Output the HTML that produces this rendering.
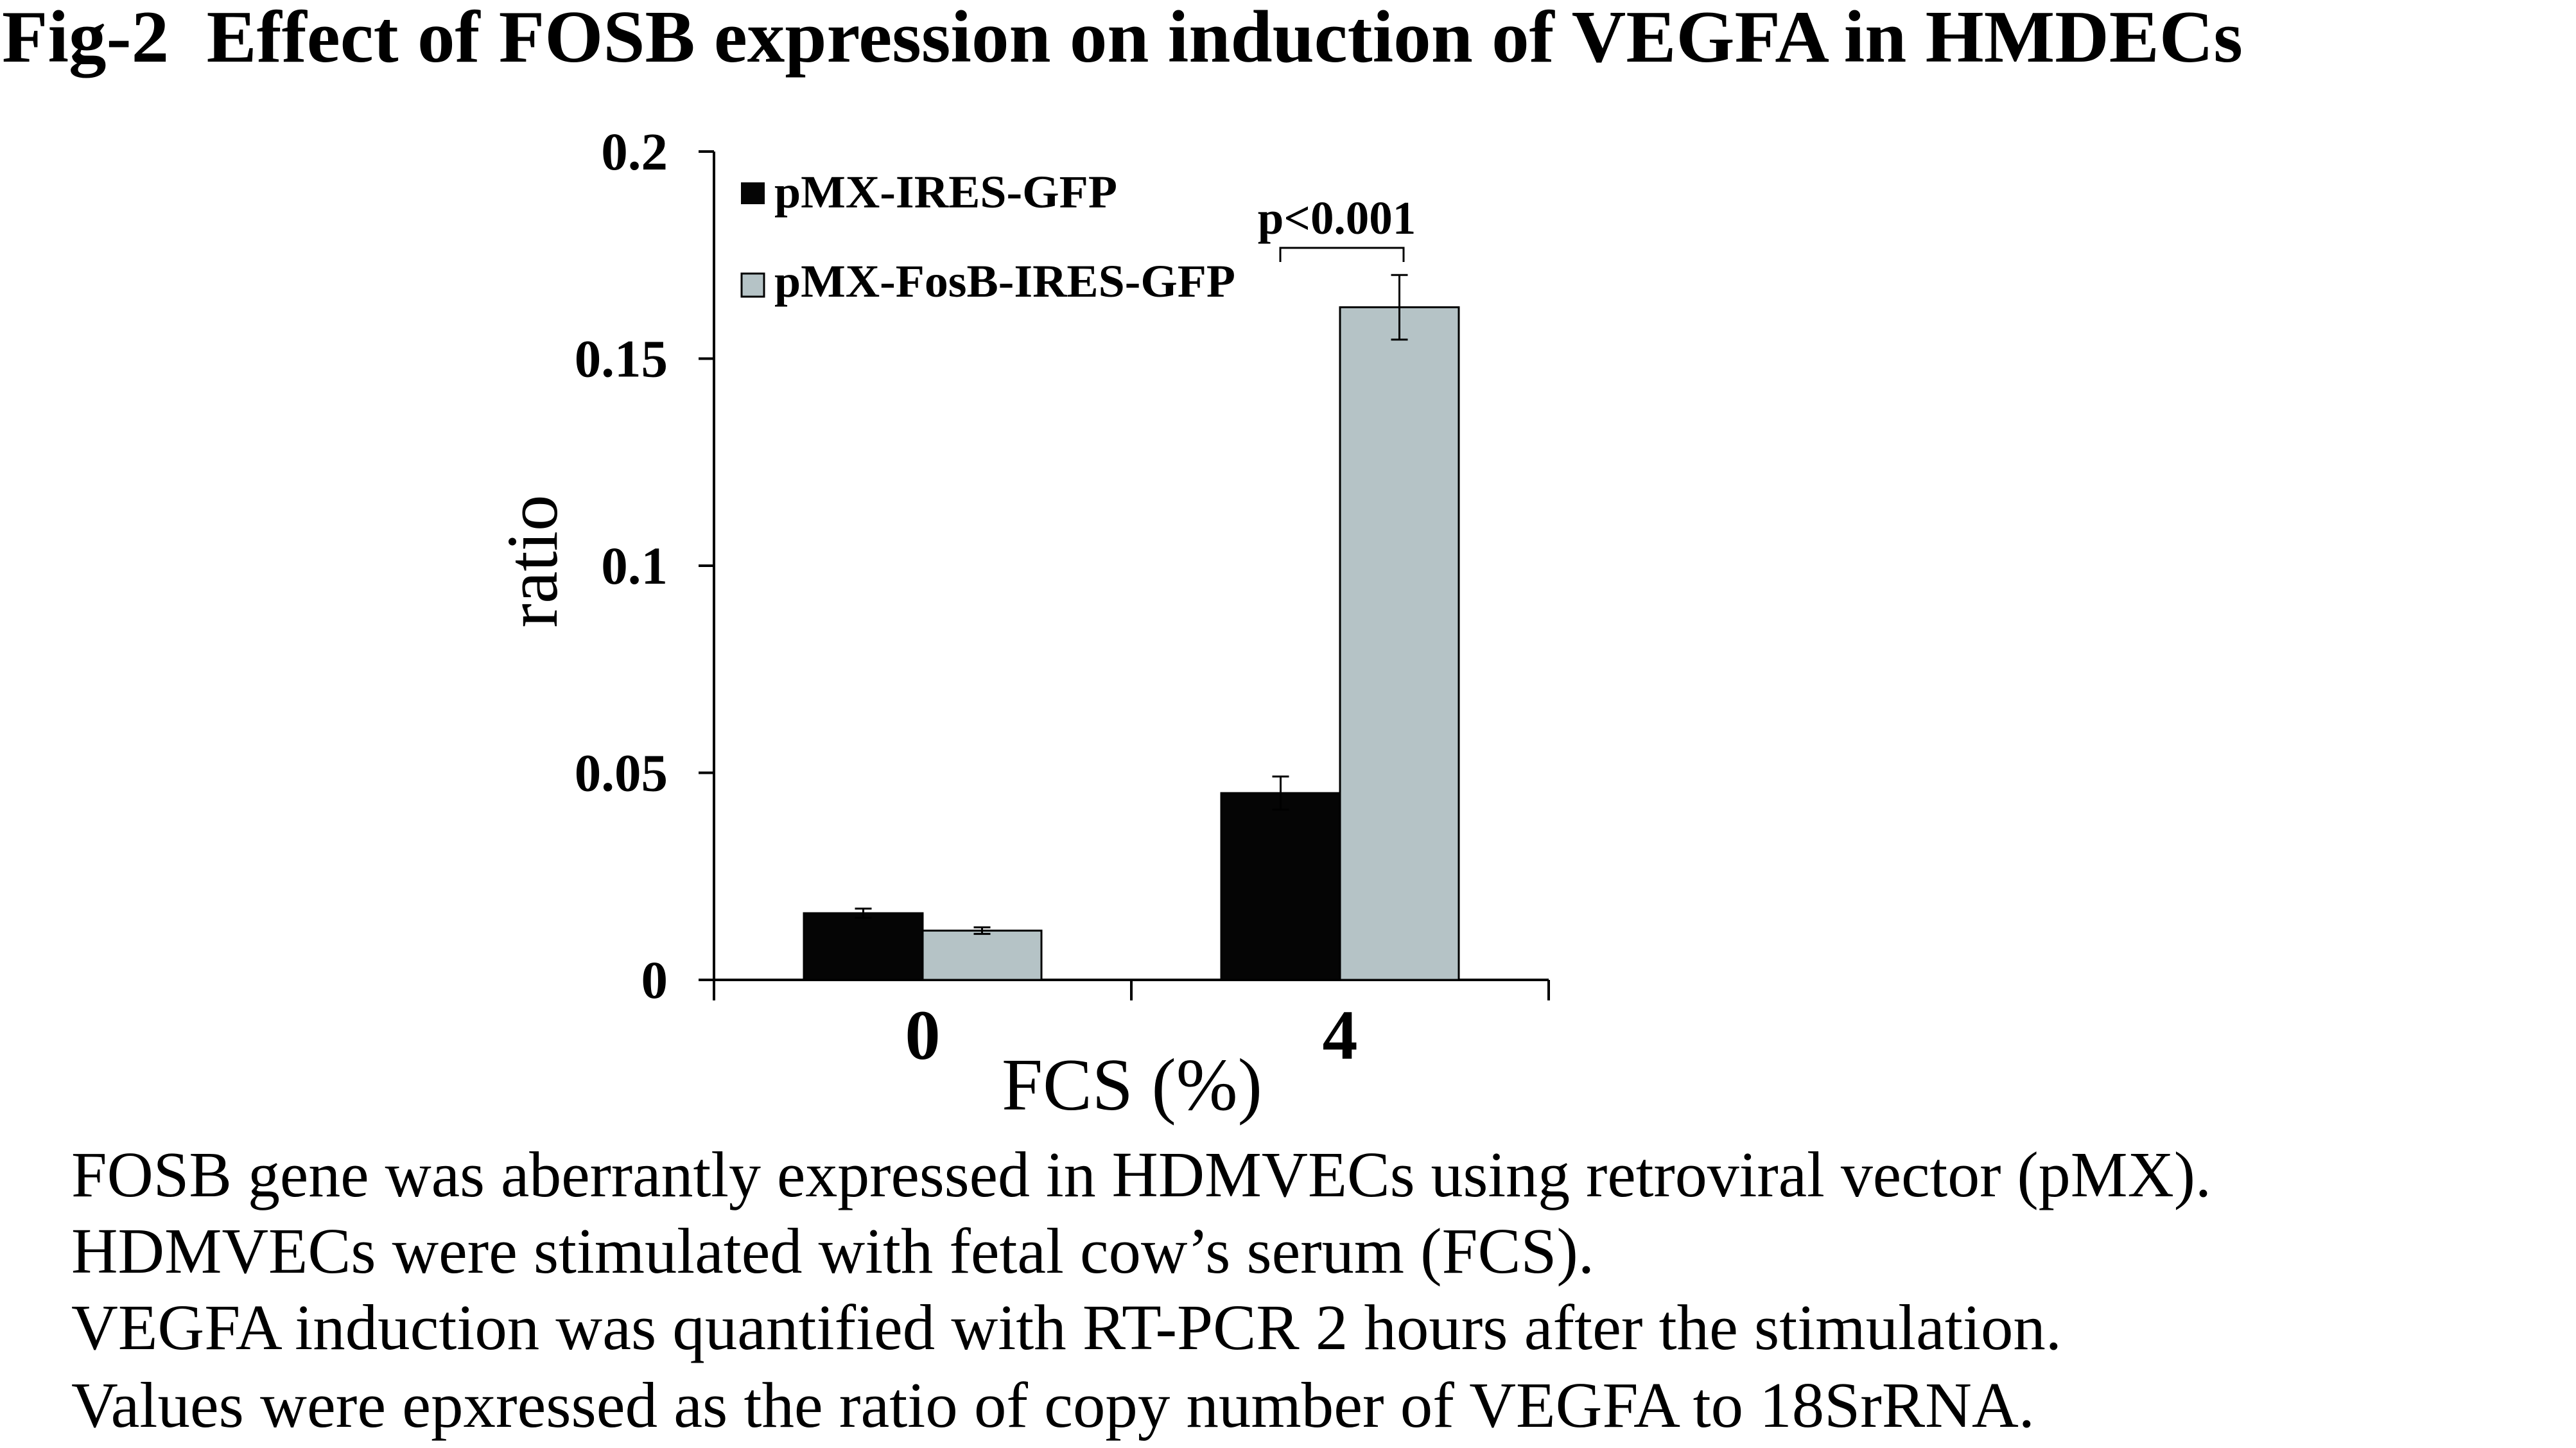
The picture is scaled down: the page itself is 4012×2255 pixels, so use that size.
<!DOCTYPE html>
<html><head><meta charset="utf-8"><style>
html,body{margin:0;padding:0;background:#fff;}
svg{display:block;font-family:"Liberation Serif","Times New Roman",serif;}
</style></head><body>
<svg id="chart" width="4012" height="2255" viewBox="0 0 4012 2255" xmlns="http://www.w3.org/2000/svg">
<rect x="0" y="0" width="4012" height="2255" fill="#fff"/>
<text x="3" y="96" font-size="115" font-weight="bold" xml:space="preserve" textLength="3490" lengthAdjust="spacingAndGlyphs">Fig-2  Effect of FOSB expression on induction of VEGFA in HMDECs</text>
<g id="axes"></g>
<g id="bars"></g>
<g>
<rect x="1154" y="284" width="37" height="34" fill="#050505"/>
<text x="1206" y="323" font-size="72" font-weight="bold" textLength="534" lengthAdjust="spacingAndGlyphs">pMX-IRES-GFP</text>
<rect x="1155" y="426" width="35" height="36" fill="#b5c3c6" stroke="#000" stroke-width="3"/>
<text x="1206" y="462" font-size="72" font-weight="bold" textLength="718" lengthAdjust="spacingAndGlyphs">pMX-FosB-IRES-GFP</text>
</g>
<g>
<path d="M1994,408 V386 H2186 V408" fill="none" stroke="#000" stroke-width="3"/>
<text x="2082" y="364" font-size="73" font-weight="bold" text-anchor="middle">p&lt;0.001</text>
</g>
<text transform="translate(867,874) rotate(-90)" font-size="113" text-anchor="middle">ratio</text>
<text x="1763" y="1728" font-size="115" text-anchor="middle">FCS (%)</text>
<g font-size="101">
<text x="111" y="1863" textLength="3333" lengthAdjust="spacingAndGlyphs">FOSB gene was aberrantly expressed in HDMVECs using retroviral vector (pMX).</text>
<text x="111" y="1982" textLength="2372" lengthAdjust="spacingAndGlyphs">HDMVECs were stimulated with fetal cow’s serum (FCS).</text>
<text x="111" y="2101" textLength="3100" lengthAdjust="spacingAndGlyphs">VEGFA induction was quantified with RT-PCR 2 hours after the stimulation.</text>
<text x="111" y="2222" textLength="3058" lengthAdjust="spacingAndGlyphs">Values were epxressed as the ratio of copy number of VEGFA to 18SrRNA.</text>
</g>
</svg>
<script>
const categories = ["0", "4"];
const seriesNames = ["pMX-IRES-GFP", "pMX-FosB-IRES-GFP"];
const controlValues = [0.0161, 0.0451];
const fosbValues = [0.0119, 0.1624];
const controlErrors = [0.0011, 0.004];
const fosbErrors = [0.0008, 0.0078];
const yTicks = [0, 0.05, 0.1, 0.15, 0.2];
const yTickLabels = ["0", "0.05", "0.1", "0.15", "0.2"];

const NS = "http://www.w3.org/2000/svg";
const X0 = 1112, X1 = 2412, Y0 = 1526, Y1 = 236, YMAX = 0.2;
const yScale = v => Y0 - (v / YMAX) * (Y0 - Y1);
const catW = (X1 - X0) / categories.length;
const catCenter = i => X0 + catW * (i + 0.5);
const barW = 185;
function mk(tag, attrs, parent) {
  const el = document.createElementNS(NS, tag);
  for (const k in attrs) el.setAttribute(k, attrs[k]);
  parent.appendChild(el);
  return el;
}
const axes = document.getElementById("axes");
const bars = document.getElementById("bars");

const series = [
  {vals: controlValues, errs: controlErrors, fill: "#050505", key: "control"},
  {vals: fosbValues, errs: fosbErrors, fill: "#b5c3c6", key: "fosb"}
];
series.forEach((s, si) => {
  s.vals.forEach((v, i) => {
    const x = catCenter(i) - barW + si * barW;
    const r = mk("rect", {x: x, y: yScale(v), width: barW, height: Y0 - yScale(v), fill: s.fill, stroke: "#000", "stroke-width": 3}, bars);
    
    
    const cx = x + barW / 2;
    const e = mk("path", {d: "M" + (cx - 13) + "," + yScale(v + s.errs[i]) + " H" + (cx + 13) + " M" + cx + "," + yScale(v + s.errs[i]) + " V" + yScale(v - s.errs[i]) + " M" + (cx - 13) + "," + yScale(v - s.errs[i]) + " H" + (cx + 13), fill: "none", stroke: "#000", "stroke-width": 3}, bars);
    
    
  });
});

const ya = mk("line", {x1: X0, y1: Y1, x2: X0, y2: Y0 + 32, stroke: "#000", "stroke-width": 4}, axes);


const xa = mk("line", {x1: X0 - 24, y1: Y0, x2: X1, y2: Y0, stroke: "#000", "stroke-width": 4}, axes);


yTicks.forEach((t, i) => {
  const y = yScale(t);
  const tk = mk("line", {x1: X0 - 24, y1: y, x2: X0, y2: y, stroke: "#000", "stroke-width": 4}, axes);
  
  
  const lb = mk("text", {x: 1040, y: y + 28, "font-size": 83, "font-weight": "bold", "text-anchor": "end"}, axes);
  lb.textContent = yTickLabels[i];
  
  
});
for (let i = 1; i <= categories.length; i++) {
  const x = X0 + catW * i;
  const tk = mk("line", {x1: x, y1: Y0, x2: x, y2: Y0 + 32, stroke: "#000", "stroke-width": 4}, axes);
  
  
}
categories.forEach((c, i) => {
  const lb = mk("text", {x: catCenter(i), y: 1649, "font-size": 110, "font-weight": "bold", "text-anchor": "middle"}, axes);
  lb.textContent = c;
  
  
});
</script>
</body></html>
